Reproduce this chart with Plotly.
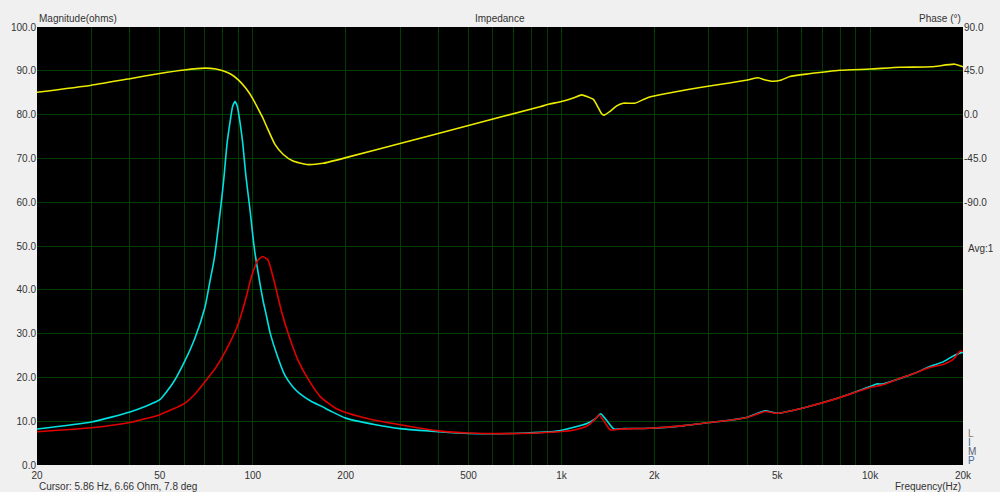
import plotly.graph_objects as go

# ---- data ----
freq_cyan = [20, 30, 40, 45, 50, 55, 60, 65, 70, 72.7, 75, 78.5, 80.5, 82.6, 84.5, 86, 87.6,
             89.2, 90.8, 92.8, 95, 97.9, 100, 101.6, 105, 108, 110, 114, 120, 127, 135, 142, 155,
             166, 180, 200, 250, 300, 400, 500, 730, 985, 1210, 1290, 1340, 1400, 1480, 1600,
             1935, 2500, 3020, 3500, 4010, 4573, 5000, 6200, 7740, 10000, 10500, 11000, 12300,
             14000, 15500, 17300, 18500, 19600, 20000]
mag_cyan = [8.2, 9.8, 12.1, 13.4, 14.9, 18.6, 23.5, 29.0, 36.0, 42.0, 47.0, 58.0, 65.0,
            73.5, 78.5, 81.8, 83.0, 81.8, 78.5, 73.5, 66.0, 58.5, 52.5, 48.5, 42.3, 37.5, 35.0,
            30.0, 25.0, 20.5, 17.8, 16.3, 14.5, 13.5, 12.2, 10.7, 9.2, 8.3, 7.6, 7.2, 7.25, 7.8,
            9.5, 10.6, 11.7, 10.2, 8.2, 8.3, 8.4, 9.0, 9.7, 10.2, 10.9, 12.4, 11.8, 13.2, 15.1,
            17.9, 18.5, 18.5, 19.6, 21.0, 22.4, 23.6, 24.8, 25.6, 25.7]

freq_red = [20, 30, 40, 50, 60, 65, 70, 76, 82, 89, 95, 99, 104, 107.7, 112, 117, 124, 131,
            140, 150, 166, 185, 200, 230, 259, 300, 400, 500, 730, 985, 1100, 1210, 1280, 1326,
            1380, 1441, 1550, 1935, 2500, 3020, 3500, 4010, 4573, 5000, 6200, 7740, 10000,
            11000, 12500, 14000, 15500, 17300, 18500, 19600, 20000]
mag_red = [7.6, 8.5, 9.7, 11.5, 14.0, 16.2, 19.0, 22.3, 26.3, 31.5, 38.0, 43.0, 46.8, 47.6,
           46.8, 42.3, 35.0, 29.5, 24.0, 20.0, 15.5, 13.0, 12.0, 10.8, 10.0, 9.2, 7.8, 7.3,
           7.2, 7.6, 8.0, 8.9, 10.3, 11.4, 9.8, 8.0, 8.2, 8.4, 9.0, 9.7, 10.2, 10.9, 12.2,
           11.8, 13.2, 15.1, 17.7, 18.3, 19.8, 21.0, 22.2, 23.0, 24.0, 26.0, 25.9]

freq_phase = [20, 30, 40, 50, 60, 70, 76, 80, 85, 90, 95, 100, 105.5, 108.2, 111, 118,
              125.6, 135, 149.5, 169, 206, 300, 500, 852, 914, 1000, 1092, 1163, 1213, 1268,
              1316, 1350, 1373, 1441, 1510, 1585, 1730, 1893, 2085, 2811, 3500, 4010, 4342,
              4573, 4853, 5165, 5497, 6340, 7985, 10000, 12490, 15800, 18800, 20000]
# phase in degrees (right axis)
phase_deg = [22.9, 30.2, 36.9, 42.3, 45.9, 47.7, 46.8, 45.0, 41.5, 35.5, 27.0, 16.5, 2.3, -4.5,
             -12.5, -30.6, -41.0, -47.7, -51.3, -50.0, -43.2, -29.7, -11.2, 8.1, 10.8, 13.5,
             17.1, 20.3, 18.5, 15.8, 7.2, 0.9, -0.5, 3.6, 9.0, 11.7, 11.7, 17.1, 20.3, 27.9,
             32.5, 35.6, 37.8, 35.6, 34.2, 35.6, 39.2, 41.9, 45.5, 46.8, 48.6, 49.1, 51.8, 49.1]

x_tickvals = [20, 30, 40, 50, 60, 70, 80, 90, 100, 200, 300, 400, 500, 600, 700, 800, 900,
              1000, 2000, 3000, 4000, 5000, 6000, 7000, 8000, 9000, 10000, 20000]
x_ticktext = ["20", "", "", "50", "", "", "", "", "100", "200", "", "", "500", "", "", "", "",
              "1k", "2k", "", "", "5k", "", "", "", "", "10k", "20k"]

y_tickvals = [0, 10, 20, 30, 40, 50, 60, 70, 80, 90, 100]
phase_tickvals = [90, 45, 0, -45, -90]
phase_ticktext = ["90.0", "45.0", "0.0", "-45.0", "-90.0"]

FONT = "Liberation Sans"
TXT = "#333333"
GRID = "rgb(0,62,0)"

fig = go.Figure()
fig.add_trace(go.Scatter(x=freq_phase, y=phase_deg, yaxis="y2", mode="lines",
                         line=dict(color="rgb(235,235,0)", width=1.6, shape="spline", smoothing=0.5),
                         hoverinfo="skip", showlegend=False))
fig.add_trace(go.Scatter(x=freq_cyan, y=mag_cyan, mode="lines",
                         line=dict(color="rgb(0,225,225)", width=1.6, shape="spline", smoothing=0.5),
                         showlegend=False))
fig.add_trace(go.Scatter(x=freq_red, y=mag_red, mode="lines",
                         line=dict(color="rgb(225,0,0)", width=1.6, shape="spline", smoothing=0.5),
                         showlegend=False))

fig.update_layout(
    width=1000, height=492,
    margin=dict(l=37, r=37, t=27, b=27),
    paper_bgcolor="#f0f0f0",
    plot_bgcolor="black",
    font=dict(family=FONT, size=10, color=TXT),
    xaxis=dict(type="log", range=[1.30103, 4.30103], tickvals=x_tickvals, ticktext=x_ticktext,
               showgrid=True, gridcolor=GRID, gridwidth=1, zeroline=False, ticks="",
               ticklabelstandoff=3, automargin=False,
               showline=False, tickfont=dict(size=10, color=TXT, family=FONT)),
    yaxis=dict(range=[0, 100], tickvals=y_tickvals, tickformat=".1f", showgrid=True,
               gridcolor=GRID, gridwidth=1, zeroline=False, ticks="", showline=False,
               automargin=False, tickfont=dict(size=10, color=TXT, family=FONT)),
    yaxis2=dict(range=[-360, 90], overlaying="y", side="right", tickvals=phase_tickvals,
                ticktext=phase_ticktext, showgrid=False, zeroline=False, ticks="",
                automargin=False, tickfont=dict(size=10, color=TXT, family=FONT)),
)

ann = [
    dict(text="Magnitude(ohms)", x=0, y=1, xanchor="left", yanchor="bottom", yshift=1),
    dict(text="Impedance", x=0.5, y=1, xanchor="center", yanchor="bottom", yshift=1),
    dict(text="Phase (°)", x=1, y=1, xanchor="right", yanchor="bottom", yshift=1),
    dict(text="Cursor: 5.86 Hz, 6.66 Ohm, 7.8 deg", x=0, y=0, xanchor="left", yanchor="top", yshift=-14),
    dict(text="Frequency(Hz)", x=1, y=0, xanchor="right", yanchor="top", yshift=-14),
    dict(text="Avg:1", x=1, y=0.494, xanchor="left", yanchor="middle", xshift=3),
]
for a in ann:
    fig.add_annotation(xref="paper", yref="paper", showarrow=False,
                       font=dict(family=FONT, size=10, color=TXT), **a)

limp = [("L", "#8a7560", 433), ("I", "#3c5c9c", 442), ("M", "#556070", 451), ("P", "#4a6aa0", 460)]
for ch, col, ypix in limp:
    fig.add_annotation(xref="paper", yref="paper", showarrow=False, text=ch,
                       x=1, y=(465 - ypix) / 438.0, xanchor="left", yanchor="middle", xshift=3,
                       font=dict(family=FONT, size=10, color=col))

fig.write_html("out.html", config={"displayModeBar": False},
               post_script="document.body.style.margin='0';document.body.style.background='#f0f0f0';")
